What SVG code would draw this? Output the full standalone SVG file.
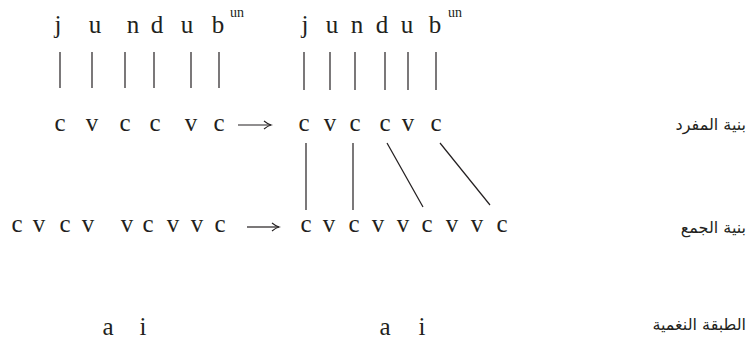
<svg xmlns="http://www.w3.org/2000/svg" width="755" height="346" viewBox="0 0 755 346">
  <style>
    .seg { font-family: "Liberation Serif", "Times New Roman", serif; font-size: 25px; fill: #231f20; text-anchor: middle; }
    .sup { font-family: "Liberation Serif", "Times New Roman", serif; font-size: 14px; fill: #231f20; }
    .ar { font-family: "DejaVu Sans", sans-serif; font-size: 16px; fill: #231f20; text-anchor: end; }
    .ln { stroke: #231f20; stroke-width: 1.2; fill: none; }
  </style>
  <defs>
    <marker id="head" markerWidth="10" markerHeight="10" refX="8" refY="5" orient="auto" markerUnits="userSpaceOnUse">
      <path d="M1,1 Q5,4.2 8,5 Q5,5.8 1,9" stroke="#231f20" stroke-width="1.1" fill="none"/>
    </marker>
  </defs>
  <rect width="755" height="346" fill="#ffffff"/>

  <!-- singular form: melody -->
  <g id="sg-word">
    <text class="seg" x="58" y="33">j</text>
    <text class="seg" x="95" y="33">u</text>
    <text class="seg" x="133" y="33">n</text>
    <text class="seg" x="157" y="33">d</text>
    <text class="seg" x="187" y="33">u</text>
    <text class="seg" x="218" y="33">b</text>
    <text class="sup" x="230" y="17">un</text>
  </g>
  <g id="sg-word-2">
    <text class="seg" x="305" y="33">j</text>
    <text class="seg" x="332" y="33">u</text>
    <text class="seg" x="357" y="33">n</text>
    <text class="seg" x="382" y="33">d</text>
    <text class="seg" x="407" y="33">u</text>
    <text class="seg" x="435" y="33">b</text>
    <text class="sup" x="448" y="17">un</text>
  </g>

  <!-- singular skeleton -->
  <g id="sg-cv">
    <text class="seg" x="60" y="131">c</text>
    <text class="seg" x="92" y="131">v</text>
    <text class="seg" x="125" y="131">c</text>
    <text class="seg" x="155" y="131">c</text>
    <text class="seg" x="191" y="131">v</text>
    <text class="seg" x="219" y="131">c</text>
  </g>
  <g id="sg-cv-2">
    <text class="seg" x="304" y="131">c</text>
    <text class="seg" x="330" y="131">v</text>
    <text class="seg" x="355" y="131">c</text>
    <text class="seg" x="385" y="131">c</text>
    <text class="seg" x="408" y="131">v</text>
    <text class="seg" x="436" y="131">c</text>
  </g>

  <!-- plural skeleton -->
  <g id="pl-cv">
    <text class="seg" x="17" y="232">c</text>
    <text class="seg" x="39" y="232">v</text>
    <text class="seg" x="65" y="232">c</text>
    <text class="seg" x="88" y="232">v</text>
    <text class="seg" x="127" y="232">v</text>
    <text class="seg" x="148" y="232">c</text>
    <text class="seg" x="173" y="232">v</text>
    <text class="seg" x="197" y="232">v</text>
    <text class="seg" x="220" y="232">c</text>
  </g>
  <g id="pl-cv-2">
    <text class="seg" x="306" y="232">c</text>
    <text class="seg" x="329" y="232">v</text>
    <text class="seg" x="354" y="232">c</text>
    <text class="seg" x="378" y="232">v</text>
    <text class="seg" x="403" y="232">v</text>
    <text class="seg" x="427" y="232">c</text>
    <text class="seg" x="452" y="232">v</text>
    <text class="seg" x="477" y="232">v</text>
    <text class="seg" x="502" y="232">c</text>
  </g>

  <!-- tonal tier -->
  <g id="tone">
    <text class="seg" x="108" y="335">a</text>
    <text class="seg" x="143" y="335">i</text>
  </g>
  <g id="tone-2">
    <text class="seg" x="385" y="335">a</text>
    <text class="seg" x="422" y="335">i</text>
  </g>

  <!-- row labels -->
  <g id="label-sg"><text class="ar" x="746" y="130">بنية المفرد</text></g>
  <g id="label-pl"><text class="ar" x="746" y="233">بنية الجمع</text></g>
  <g id="label-tone"><text class="ar" x="746" y="330">الطبقة النغمية</text></g>

  <!-- association lines and arrows -->
  <g id="connectors" class="ln">
    <line x1="60" y1="52" x2="60" y2="88"/>
    <line x1="92" y1="52" x2="92" y2="88"/>
    <line x1="125" y1="52" x2="125" y2="88"/>
    <line x1="154" y1="52" x2="154" y2="88"/>
    <line x1="191" y1="52" x2="191" y2="88"/>
    <line x1="219" y1="52" x2="219" y2="88"/>

    <line x1="304" y1="52" x2="304" y2="90"/>
    <line x1="330" y1="52" x2="330" y2="90"/>
    <line x1="355" y1="52" x2="355" y2="90"/>
    <line x1="385" y1="52" x2="385" y2="90"/>
    <line x1="408" y1="52" x2="408" y2="90"/>
    <line x1="436" y1="52" x2="436" y2="90"/>

    <line x1="306" y1="143" x2="306" y2="210"/>
    <line x1="353" y1="143" x2="353" y2="210"/>
    <line x1="387" y1="143" x2="423" y2="207"/>
    <line x1="440" y1="143" x2="490" y2="205"/>

    <line x1="238" y1="125" x2="271" y2="125" marker-end="url(#head)"/>
    <line x1="247" y1="227" x2="279" y2="227" marker-end="url(#head)"/>
  </g>
</svg>
